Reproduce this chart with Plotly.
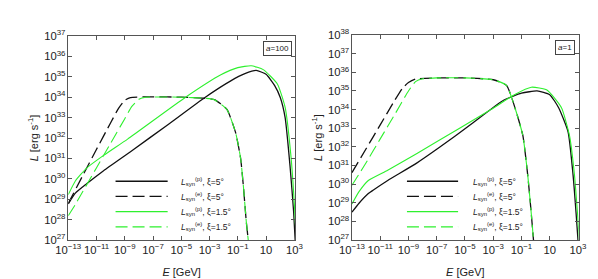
import numpy as np
import plotly.graph_objects as go

# ---------------- data (log10 E [GeV], log10 L [erg/s]) ----------------
# Left panel: a = 100
A100_P5_logE = [-13, -12.5, -11.7, -10.5, -8.5, -6.0, -3.3, -1.5, -0.5, 0.3, 1.0, 1.6, 2.0, 2.35, 2.7, 2.95, 3.1]
A100_P5_logL = [28.77, 29.3, 29.76, 30.4, 31.38, 32.63, 34.0, 34.8, 35.15, 35.31, 35.12, 34.58, 34.0, 33.0, 30.6, 28.4, 26.5]

A100_P15_logE = [-13, -12.5, -11.7, -10.5, -8.8, -4.7, -2.2, -1.0, -0.05, 0.8, 1.8, 2.35, 2.75, 3.0, 3.15]
A100_P15_logL = [29.23, 29.9, 30.53, 31.15, 31.95, 34.0, 35.1, 35.45, 35.54, 35.35, 34.65, 33.5, 31.2, 28.8, 26.8]

A100_E5_logE = [-13, -12, -11, -10, -9.42, -9.0, -8.6, -7, -5, -3.4, -2.66, -1.77, -1.15, -0.8, -0.6, -0.4, -0.26, -0.15]
A100_E5_logL = [28.8, 30.13, 31.45, 32.75, 33.48, 33.85, 33.98, 34.02, 34.0, 33.95, 33.88, 33.4, 32.25, 31.0, 29.6, 27.9, 27.0, 26.3]

A100_E15_logE = [-13, -12.5, -11, -10, -9, -8.5, -8.0, -7.5, -5, -3.4, -2.66, -1.77, -1.15, -0.8, -0.6, -0.4, -0.26, -0.15]
A100_E15_logL = [28.2, 28.75, 30.55, 31.75, 32.95, 33.55, 33.9, 34.0, 34.0, 33.95, 33.88, 33.4, 32.25, 31.0, 29.6, 27.9, 27.0, 26.3]

# Right panel: a = 1
A1_P5_logE = [-13, -12.5, -11.84, -11.48, -10.47, -8.42, -6.85, -4.5, -2.27, -1.0, 0.1, 1.0, 1.63, 2.3, 2.65, 2.86, 3.0, 3.1]
A1_P5_logL = [28.5, 28.98, 29.5, 29.69, 30.2, 31.13, 31.95, 33.25, 34.5, 34.88, 35.0, 34.8, 34.1, 32.8, 30.5, 28.5, 27.0, 26.0]

A1_P15_logE = [-13, -12.5, -11.84, -10.47, -8.4, -5.5, -3.16, -1.5, -0.3, 0.8, 1.83, 2.4, 2.75, 2.95, 3.1, 3.2]
A1_P15_logL = [28.94, 29.6, 30.2, 30.75, 31.65, 32.95, 34.0, 34.8, 35.2, 35.05, 34.1, 32.6, 30.5, 28.6, 27.0, 26.0]

A1_E5_logE = [-13, -12, -11, -10, -9.42, -9.0, -8.5, -7, -5, -3, -2.06, -1.38, -0.9, -0.56, -0.35, -0.15, -0.05]
A1_E5_logL = [30.62, 31.9, 33.18, 34.46, 35.15, 35.45, 35.64, 35.7, 35.7, 35.6, 35.3, 33.9, 32.6, 30.5, 28.8, 27.0, 26.0]

A1_E15_logE = [-13, -12, -11, -10, -9, -8.5, -8.0, -7, -5, -3, -2.06, -1.38, -0.9, -0.56, -0.35, -0.15, -0.05]
A1_E15_logL = [29.94, 31.15, 32.43, 33.7, 35.0, 35.5, 35.65, 35.7, 35.7, 35.6, 35.3, 33.9, 32.6, 30.5, 28.8, 27.0, 26.0]

PANEL_LABELS = ["<i>a</i>=100", "<i>a</i>=1"]
LEGEND_TEXT = [
    "<i>L</i><sub>syn</sub><sup>(p)</sup>, ξ=5°",
    "<i>L</i><sub>syn</sub><sup>(e)</sup>, ξ=5°",
    "<i>L</i><sub>syn</sub><sup>(p)</sup>, ξ=1.5°",
    "<i>L</i><sub>syn</sub><sup>(e)</sup>, ξ=1.5°",
]

# ---------------- styles ----------------
BLACK = "#111111"
GREEN = "#2ef02e"
DASH = "12px,5px"
FONT = "Arial, Liberation Sans, sans-serif"
W, H = 598, 279

styles = [
    dict(color=BLACK, width=1.3, dash="solid"),
    dict(color=BLACK, width=1.3, dash=DASH),
    dict(color=GREEN, width=1.1, dash="solid"),
    dict(color=GREEN, width=1.1, dash=DASH),
]

panels = [
    ([(A100_P5_logE, A100_P5_logL), (A100_E5_logE, A100_E5_logL),
      (A100_P15_logE, A100_P15_logL), (A100_E15_logE, A100_E15_logL)], "x", "y"),
    ([(A1_P5_logE, A1_P5_logL), (A1_E5_logE, A1_E5_logL),
      (A1_P15_logE, A1_P15_logL), (A1_E15_logE, A1_E15_logL)], "x2", "y2"),
]

fig = go.Figure()
for series, xa, ya in panels:
    for (le, ll), st in zip(series, styles):
        fig.add_trace(go.Scatter(
            x=10 ** np.array(le, dtype=float), y=10 ** np.array(ll, dtype=float),
            mode="lines", line=dict(color=st["color"], width=st["width"], dash=st["dash"],
                                    shape="spline", smoothing=0.5),
            xaxis=xa, yaxis=ya, showlegend=False, hoverinfo="skip"))

axis_common = dict(
    type="log", showline=True, linecolor="#555555", linewidth=1, mirror="ticks",
    ticks="inside", ticklen=4, tickcolor="#555555", showgrid=False, zeroline=False,
    exponentformat="power", showexponent="all",
    tickfont=dict(family=FONT, size=9, color="#222222"),
)

ldom = [49 / W, 284 / W]
rdom = [343 / W, 578 / W]
fig.update_layout(
    width=W, height=H, margin=dict(l=0, r=0, t=0, b=0),
    paper_bgcolor="white", plot_bgcolor="white",
    font=dict(family=FONT, size=9, color="#222222"),
    xaxis=dict(axis_common, domain=ldom, range=[-13, 3.05], dtick=2, tick0=1, anchor="y",
               title=dict(text="<i>E</i> [GeV]", font=dict(family=FONT, size=11), standoff=13)),
    yaxis=dict(axis_common, domain=[1 - 236 / H, 1 - 21 / H], range=[27, 37], dtick=1, anchor="x",
               title=dict(text="<i>L</i> [erg s<sup>-1</sup>]", font=dict(family=FONT, size=11), standoff=3)),
    xaxis2=dict(axis_common, domain=rdom, range=[-13, 3.05], dtick=2, tick0=1, anchor="y2",
                title=dict(text="<i>E</i> [GeV]", font=dict(family=FONT, size=11), standoff=13)),
    yaxis2=dict(axis_common, domain=[1 - 236 / H, 1 - 20 / H], range=[27, 38], dtick=1, anchor="x2",
                title=dict(text="<i>L</i> [erg s<sup>-1</sup>]", font=dict(family=FONT, size=11), standoff=3)),
)

# panel labels (boxed)
for lab, xr, yr in [(PANEL_LABELS[0], "x domain", "y domain"), (PANEL_LABELS[1], "x2 domain", "y2 domain")]:
    fig.add_annotation(text=lab, xref=xr, yref=yr, x=0.985, y=0.975, xanchor="right", yanchor="top",
                       showarrow=False, font=dict(family=FONT, size=8, color="#222222"),
                       bordercolor="#444444", borderwidth=1, borderpad=2, bgcolor="white")

# manual legend (line samples + labels), per panel
legend_rows = [174, 190, 206, 222]
for x0, x1, xt in [(98, 152, 164), (400, 453, 466)]:
    for i, (st, txt) in enumerate(zip(styles, LEGEND_TEXT)):
        yy = 1 - legend_rows[i] / H
        fig.add_shape(type="line", xref="paper", yref="paper", x0=x0 / W, x1=x1 / W, y0=yy, y1=yy,
                      line=dict(color=st["color"], width=st["width"], dash=st["dash"]))
        fig.add_annotation(text=txt, xref="paper", yref="paper", x=xt / W, y=yy, xanchor="left",
                           yanchor="middle", showarrow=False, font=dict(family=FONT, size=8.5, color="#222222"))

fig.write_html("out.html")
